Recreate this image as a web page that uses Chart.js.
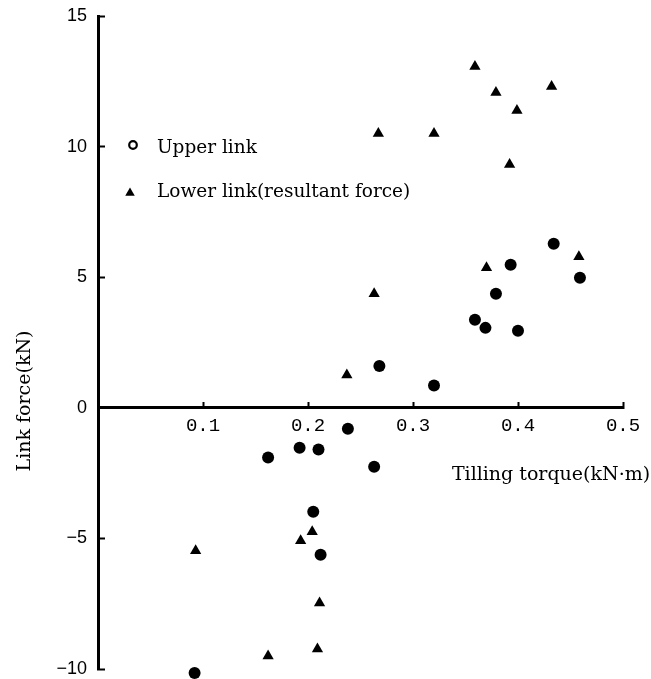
<!DOCTYPE html>
<html><head><meta charset="utf-8">
<script src="https://cdn.jsdelivr.net/npm/chart.js@4.4.1/dist/chart.umd.min.js"></script>
<style>html,body{margin:0;padding:0;background:#fff;}canvas{display:block;}</style>
</head><body>
<canvas id="c" width="651" height="679"></canvas>
<script>
// ---- data ----
const upperX = [0.092, 0.162, 0.192, 0.210, 0.205, 0.212, 0.238, 0.263, 0.268, 0.320, 0.359, 0.369, 0.400, 0.379, 0.393, 0.434, 0.459];
const upperY = [-10.15, -1.9, -1.53, -1.6, -3.98, -5.63, -0.8, -2.26, 1.6, 0.85, 3.37, 3.06, 2.95, 4.37, 5.48, 6.28, 4.98];
const lowerX = [0.093, 0.162, 0.193, 0.204, 0.211, 0.209, 0.237, 0.263, 0.267, 0.320, 0.359, 0.379, 0.399, 0.432, 0.392, 0.370, 0.458];
const lowerY = [-5.47, -9.5, -5.09, -4.75, -7.47, -9.23, 1.26, 4.37, 10.5, 10.5, 13.07, 12.07, 11.38, 12.3, 9.31, 5.36, 5.78];
const seriesNames = ['Upper link', 'Lower link(resultant force)'];
const xTickLabels = ['', '0.1', '0.2', '0.3', '0.4', '0.5'];
const yTickLabels = ['\u221210', '\u22125', '0', '5', '10', '15'];
const xTitle = 'Tilling torque(kN\u00b7m)';
const yTitle = 'Link force(kN)';

const toPoints = (xs, ys) => xs.map((x, i) => ({x: x, y: ys[i]}));

const titlesAndLegend = {
  id: 'titlesAndLegend',
  afterDraw(chart) {
    const ctx = chart.ctx;
    ctx.save();
    ctx.fillStyle = '#000';
    ctx.textBaseline = 'middle';
    // x title
    ctx.font = '19px "DejaVu Serif"';
    ctx.textAlign = 'center';
    ctx.fillText(xTitle, 551, 475);
    // y title
    ctx.save();
    ctx.translate(25, 401);
    ctx.rotate(-Math.PI / 2);
    ctx.fillText(yTitle, 0, 0);
    ctx.restore();
    // legend
    ctx.font = '18.5px "DejaVu Serif"';
    ctx.textAlign = 'left';
    const ds = chart.data.datasets;
    ctx.fillText(ds[0].label, 157, 148);
    ctx.fillText(ds[1].label, 157, 192);
    ctx.strokeStyle = '#000';
    ctx.lineWidth = 2.2;
    ctx.beginPath();
    ctx.arc(133, 145, 3.8, 0, Math.PI * 2);
    ctx.stroke();
    const r = 5.5, cx = 130, cy = 193;
    ctx.beginPath();
    ctx.moveTo(cx, cy - r);
    ctx.lineTo(cx + r * Math.sin(2 * Math.PI / 3), cy - r * Math.cos(2 * Math.PI / 3));
    ctx.lineTo(cx + r * Math.sin(4 * Math.PI / 3), cy - r * Math.cos(4 * Math.PI / 3));
    ctx.closePath();
    ctx.fill();
    ctx.restore();
  }
};

new Chart(document.getElementById('c'), {
  type: 'scatter',
  data: {
    datasets: [
      {label: seriesNames[0], data: toPoints(upperX, upperY), pointStyle: 'circle', pointRadius: 6,
       backgroundColor: '#000', borderColor: '#000', borderWidth: 0, clip: false},
      {label: seriesNames[1], data: toPoints(lowerX, lowerY), pointStyle: 'triangle', pointRadius: 6.5,
       backgroundColor: '#000', borderColor: '#000', borderWidth: 0, clip: false}
    ]
  },
  options: {
    responsive: false,
    animation: false,
    layout: {padding: {left: 0, right: 28, top: 16, bottom: 10}},
    plugins: {legend: {display: false}, tooltip: {enabled: false}},
    scales: {
      x: {
        type: 'linear', min: 0, max: 0.5, position: {y: 0},
        afterFit: s => { s.height = 0; s.paddingLeft = 0; s.paddingRight = 0; },
        ticks: {stepSize: 0.1, autoSkip: false, maxRotation: 0, padding: 14, color: '#000',
                font: {family: 'Liberation Mono', size: 19},
                callback: (v, i) => xTickLabels[i]},
        grid: {drawOnChartArea: false, drawTicks: true, tickLength: -7, tickWidth: 2, tickColor: '#000'},
        border: {display: true, width: 3, color: '#000'}
      },
      y: {
        type: 'linear', min: -10, max: 15, position: 'left',
        afterFit: s => { s.width = 98; s.paddingTop = 0; s.paddingBottom = 0; },
        ticks: {stepSize: 5, autoSkip: false, padding: 18, color: '#000',
                font: {family: 'Liberation Sans', size: 18},
                callback: (v, i) => yTickLabels[i]},
        grid: {drawOnChartArea: false, drawTicks: true, tickLength: -7, tickWidth: 2, tickColor: '#000'},
        border: {display: true, width: 3, color: '#000'}
      }
    }
  },
  plugins: [titlesAndLegend]
});
</script>
</body></html>
